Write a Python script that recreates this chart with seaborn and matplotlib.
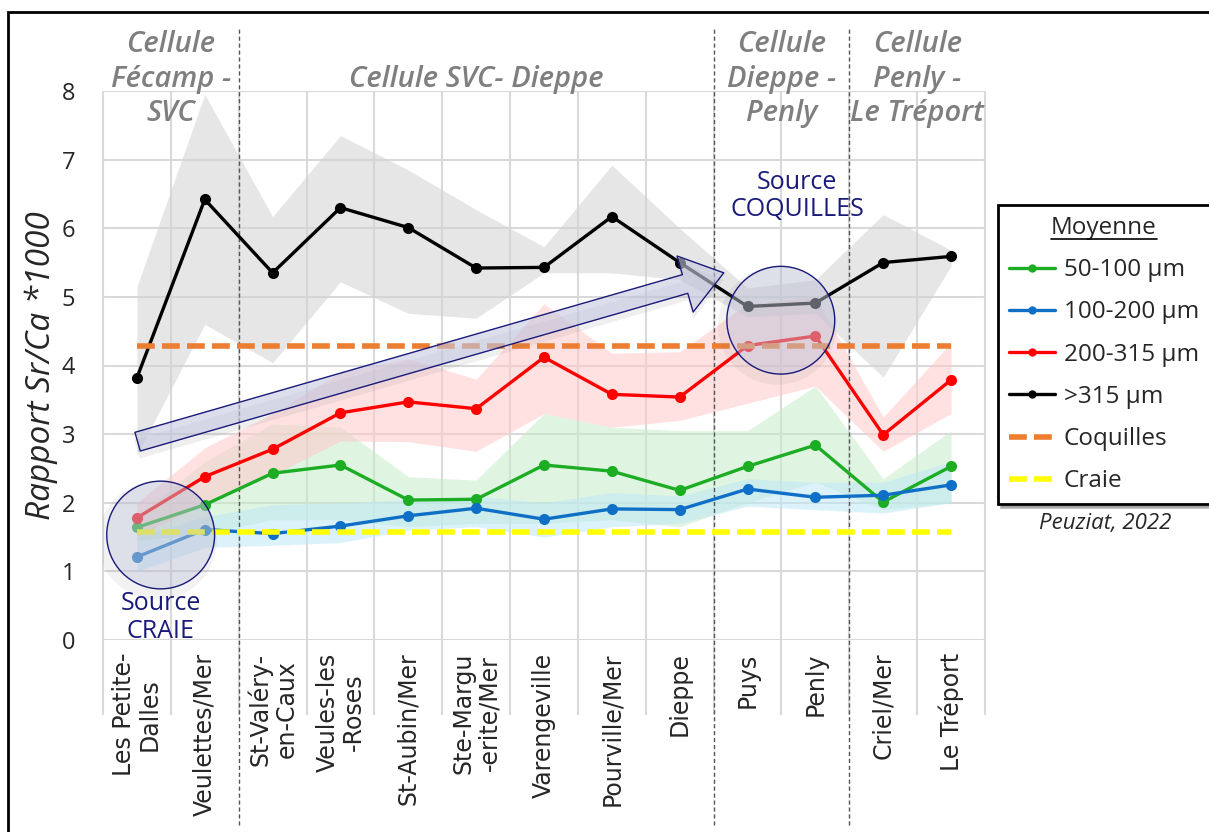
import numpy as np
import pandas as pd
import matplotlib.pyplot as plt
import seaborn as sns
from matplotlib.patches import Ellipse, FancyArrowPatch, Rectangle
from matplotlib.lines import Line2D

# ==========================================
# DATA
# ==========================================
sites = ["Les Petite-\nDalles", "Veulettes/Mer", "St-Valéry-\nen-Caux", "Veules-les\n-Roses",
         "St-Aubin/Mer", "Ste-Margu\n-erite/Mer", "Varengeville", "Pourville/Mer", "Dieppe",
         "Puys", "Penly", "Criel/Mer", "Le Tréport"]

# (label, first site index, last site index)
cellules = [("Cellule\nFécamp -\nSVC", 0, 1),
            ("Cellule SVC- Dieppe", 2, 8),
            ("Cellule\nDieppe -\nPenly", 9, 10),
            ("Cellule\nPenly -\nLe Tréport", 11, 12)]

mean_50_100 = [1.64, 1.97, 2.43, 2.55, 2.04, 2.05, 2.55, 2.46, 2.18, 2.53, 2.84, 2.01, 2.53]
low_50_100 = [1.45, 1.55, 1.75, 1.75, 1.65, 1.70, 1.70, 1.75, 1.65, 2.00, 2.30, 1.90, 2.00]
high_50_100 = [1.80, 2.60, 3.15, 3.10, 2.38, 2.33, 3.30, 3.10, 3.05, 3.05, 3.70, 2.35, 3.05]

mean_100_200 = [1.21, 1.61, 1.55, 1.66, 1.81, 1.92, 1.76, 1.91, 1.90, 2.20, 2.08, 2.11, 2.26]
low_100_200 = [1.00, 1.35, 1.38, 1.42, 1.60, 1.65, 1.50, 1.65, 1.70, 1.95, 1.90, 1.85, 2.00]
high_100_200 = [1.50, 1.80, 1.97, 2.00, 2.05, 2.10, 2.00, 2.15, 2.10, 2.35, 2.30, 2.30, 2.60]

mean_200_315 = [1.78, 2.38, 2.78, 3.31, 3.47, 3.37, 4.12, 3.58, 3.54, 4.29, 4.43, 2.99, 3.79]
low_200_315 = [1.50, 2.00, 2.40, 2.90, 2.89, 2.75, 3.30, 3.10, 3.20, 3.45, 3.70, 2.75, 3.30]
high_200_315 = [2.00, 2.80, 3.30, 3.90, 4.10, 3.80, 4.90, 4.18, 4.20, 4.90, 5.00, 3.25, 4.33]

mean_315 = [3.82, 6.42, 5.35, 6.30, 6.01, 5.42, 5.43, 6.17, 5.50, 4.86, 4.91, 5.50, 5.59]
low_315 = [2.70, 4.60, 4.04, 5.22, 4.76, 4.69, 5.35, 5.35, 5.25, 4.71, 4.76, 3.83, 5.45]
high_315 = [5.15, 7.95, 6.17, 7.35, 6.85, 6.27, 5.73, 6.92, 6.00, 5.13, 5.25, 6.20, 5.68]

coquilles = 4.28
craie = 1.58

# ==========================================
# STYLE
# ==========================================
sns.set_style("white")
plt.rcParams['font.family'] = ['Open Sans', 'DejaVu Sans']

NAVY = '#1a1a7a'
GREY_TXT = '#7f7f7f'

series = [
    ("50-100 µm", mean_50_100, low_50_100, high_50_100, '#1cad24', '#c8eccb', 0.55),
    ("100-200 µm", mean_100_200, low_100_200, high_100_200, '#0f6fc6', '#bfe9f7', 0.55),
    ("200-315 µm", mean_200_315, low_200_315, high_200_315, '#ff0000', '#ffc9c9', 0.55),
    (">315 µm", mean_315, low_315, high_315, '#000000', '#d3d3d3', 0.55),
]

fig = plt.figure(figsize=(12.09, 8.32), dpi=100)
ax = fig.add_axes([103 / 1209, 1 - 640 / 832, 882 / 1209, 549 / 832])

pos = np.arange(len(sites))

# bands of spread
for name, mean, low, high, col, band, alpha in series:
    ax.fill_between(pos, low, high, color=band, alpha=alpha, lw=0, zorder=1)

# mean lines
for name, mean, low, high, col, band, alpha in series:
    sns.lineplot(x=pos, y=mean, color=col, marker='o', markersize=8, linewidth=2.4,
                 mec=col, mew=0, label=name, ax=ax, zorder=3)

# reference levels
sns.lineplot(x=pos, y=np.full(len(pos), coquilles), color='#ed7d31', linewidth=4,
             dashes=(3.2, 1.3), label='Coquilles', ax=ax, zorder=4)
sns.lineplot(x=pos, y=np.full(len(pos), craie), color='#ffff00', linewidth=4,
             dashes=(3.2, 1.3), label='Craie', ax=ax, zorder=4)

ax.set_xlim(-0.5, len(sites) - 0.5)
ax.set_ylim(0, 8)
for s in ax.spines.values():
    s.set_visible(False)

# grid
ax.set_yticks(range(0, 9))
ax.grid(True, axis='y', color='#d9d9d9', lw=1.5, zorder=0)
ax.grid(False, axis='x')
ax.vlines(np.arange(len(sites) + 1) - 0.5, -1.1, 8, color='#d9d9d9', lw=1.5,
          clip_on=False, zorder=0)

# cellule separators + headings
for i, (lab, a, b) in enumerate(cellules):
    ax.text((a + b) / 2, 8.17, lab, ha='center', va='center', fontsize=21,
            style='italic', fontweight='semibold', color=GREY_TXT,
            linespacing=1.25, clip_on=False)
    if i > 0:
        ax.vlines(a - 0.5, -2.7, 8.9, color='#555555', lw=1, linestyles=(0, (3, 2)),
                  clip_on=False, zorder=2)

ax.set_xticks(pos)
ax.set_xticklabels(sites, rotation=90, fontsize=17, fontfamily='DejaVu Sans',
                   multialignment='center', linespacing=1.1)
ax.tick_params(axis='x', length=0, pad=9)
ax.tick_params(axis='y', length=0, pad=20, labelsize=17)
ax.set_xlabel('')
ax.set_ylabel('Rapport Sr/Ca *1000', fontsize=24, style='italic')
ax.yaxis.set_label_coords(-0.051, 0.5)

# source circles and arrow
for (cx, cy) in [(0.35, 1.53), (9.49, 4.66)]:
    ax.add_patch(Ellipse((cx - 0.05, cy - 0.08), 1.75, 1.72, color='0.5', alpha=0.10,
                         lw=0, zorder=4))
    ax.add_patch(Ellipse((cx, cy), 1.59, 1.57, facecolor='#c5c8e0', alpha=0.45,
                         edgecolor='none', zorder=5))
    ax.add_patch(Ellipse((cx, cy), 1.59, 1.57, facecolor='none', edgecolor=NAVY,
                         lw=1, zorder=6))

ax.text(0.35, 0.33, 'Source\nCRAIE', ha='center', va='center', fontsize=18,
        color=NAVY, linespacing=1.15, zorder=6)
ax.text(9.73, 6.47, 'Source\nCOQUILLES', ha='center', va='center', fontsize=18,
        color=NAVY, linespacing=1.15, zorder=6)

arrow_style = "simple,head_length=29,head_width=42,tail_width=14"
ax.add_patch(FancyArrowPatch((0.0, 2.78), (8.65, 5.25), arrowstyle=arrow_style,
                             mutation_scale=1, color='0.5', alpha=0.12, lw=0,
                             shrinkA=0, shrinkB=0, zorder=4))
ax.add_patch(FancyArrowPatch((0.01, 2.89), (8.65, 5.35), arrowstyle=arrow_style,
                             mutation_scale=1, facecolor='#c5c8e0', alpha=0.6,
                             edgecolor='none', shrinkA=0, shrinkB=0, zorder=5))
ax.add_patch(FancyArrowPatch((0.01, 2.89), (8.65, 5.35), arrowstyle=arrow_style,
                             mutation_scale=1, facecolor='none', edgecolor=NAVY, lw=1,
                             shrinkA=0, shrinkB=0, zorder=6))

# legend
handles, labels = ax.get_legend_handles_labels()
leg = ax.legend(handles, labels, title='Moyenne', loc='upper left',
                bbox_to_anchor=(998 / 1209, 1 - 205 / 832), bbox_transform=fig.transFigure,
                fontsize=17.5, title_fontsize=17.5, frameon=True, fancybox=False,
                shadow={'color': '0.55', 'alpha': 0.6}, borderpad=0.45, labelspacing=0.75,
                handlelength=1.9, handletextpad=0.35, borderaxespad=0)
leg.get_frame().set_edgecolor('black')
leg.get_frame().set_linewidth(2)
for h in leg.legend_handles:
    h.set_markersize(6)

fig.text(1105 / 1209, 1 - 523 / 832, 'Peuziat, 2022', ha='center', va='center',
         fontsize=16, style='italic')

# outer frame
fig.add_artist(Rectangle((8 / 1209, -0.1), 1.2, 1.1 - 12 / 832, transform=fig.transFigure,
                         fill=False, lw=2, edgecolor='black'))

# underline of legend title
fig.canvas.draw()
bb = leg.get_title().get_window_extent()
fig.add_artist(Line2D([bb.x0, bb.x1], [bb.y0 + 1, bb.y0 + 1], transform=None,
                      color='black', lw=1.2))

fig.savefig('out.png', dpi=100)
